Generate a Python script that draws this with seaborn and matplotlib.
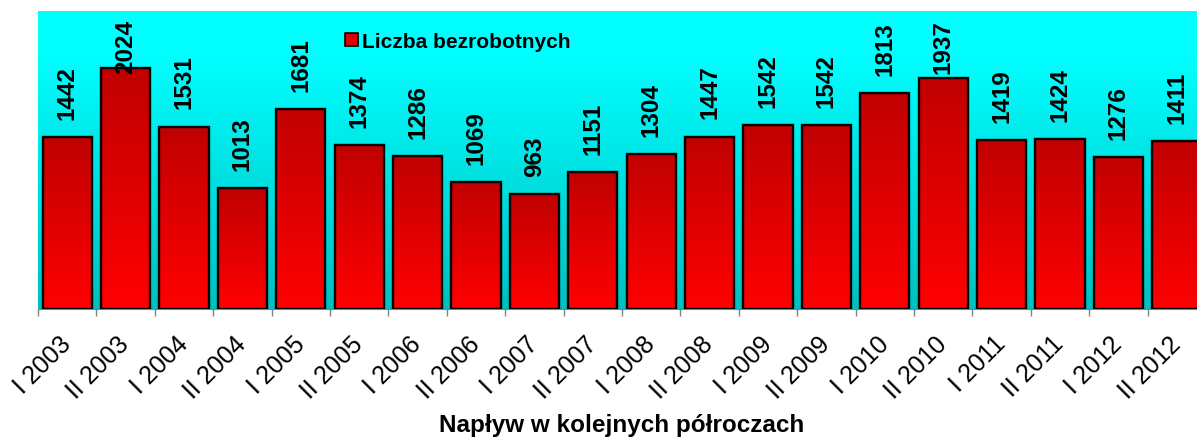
import numpy as np
import matplotlib
matplotlib.use("Agg")
import matplotlib.pyplot as plt
import seaborn as sns
from matplotlib.patches import Patch
from matplotlib.colors import to_rgb

categories = ["I 2003", "II 2003", "I 2004", "II 2004", "I 2005", "II 2005",
              "I 2006", "II 2006", "I 2007", "II 2007", "I 2008", "II 2008",
              "I 2009", "II 2009", "I 2010", "II 2010", "I 2011", "II 2011",
              "I 2012", "II 2012"]
values = [1442, 2024, 1531, 1013, 1681, 1374, 1286, 1069, 963, 1151,
          1304, 1447, 1542, 1542, 1813, 1937, 1419, 1424, 1276, 1411]
series_name = "Liczba bezrobotnych"
x_title = "Napływ w kolejnych półroczach"

sns.set_theme(style="white")
plt.rcParams['font.family'] = ['Liberation Sans', 'DejaVu Sans']
plt.rcParams['text.color'] = 'black'
plt.rcParams['xtick.color'] = 'black'
plt.rcParams['xtick.labelcolor'] = 'black'

W, H = 1197, 439
fig = plt.figure(figsize=(W / 100, H / 100), dpi=100)
ax_left, ax_right = 38 / W, 1206 / W
ax_bottom, ax_top = 1 - 310 / H, 1 - 12 / H
ax = fig.add_axes([ax_left, ax_bottom, ax_right - ax_left, ax_top - ax_bottom])

YMAX = 2500
n = len(categories)

sns.barplot(x=categories, y=values, ax=ax, color="#E00000", edgecolor="black",
            linewidth=1.7, width=0.84, zorder=3)

def vgrad(top, bottom, steps=256):
    t = np.linspace(0, 1, steps)[:, None]
    c0, c1 = np.array(to_rgb(top)), np.array(to_rgb(bottom))
    return (c0 * (1 - t) + c1 * t).reshape(steps, 1, 3)

# background gradient: bright cyan on top fading to teal at the bottom
t = np.linspace(0, 1, 256)
tt = np.clip((t - 0.15) / 0.85, 0, 1)
bg = np.zeros((256, 1, 3))
bg[:, 0, 1] = 1.0 - 0.25 * tt
bg[:, 0, 2] = 1.0 - 0.25 * tt
ax.imshow(bg, extent=[-0.5, n - 0.5, 0, YMAX], aspect="auto", origin="upper", zorder=0)

bar_grad = vgrad("#C00000", "#FF0000")
for p in ax.patches:
    x0, y0 = p.get_x(), p.get_y()
    w, h = p.get_width(), p.get_height()
    im = ax.imshow(bar_grad, extent=[x0, x0 + w, y0, y0 + h], aspect="auto",
                   origin="upper", zorder=2)
    im.set_clip_path(p)
    p.set_facecolor("none")

ax.set_xlim(-0.5, n - 0.5)
ax.set_ylim(0, YMAX)
ax.set_yticks([])
ax.set_ylabel("")
ax.set_xlabel("")
for s in ["left", "top", "right"]:
    ax.spines[s].set_visible(False)
ax.spines["bottom"].set_color("#808080")
ax.spines["bottom"].set_linewidth(0.8)

ax.set_xticks(np.arange(n))
ax.set_xticklabels(categories, rotation=45, ha="right", va="center",
                   rotation_mode="anchor", fontsize=18, color="black")
ax.tick_params(axis="x", which="major", length=0, pad=22)
ax.set_xticks(np.arange(n + 1) - 0.5, minor=True)
ax.tick_params(axis="x", which="minor", length=5, width=1, color="#808080",
               direction="out", bottom=True)

texts = []
for i, v in enumerate(values):
    tx = ax.annotate(str(v), xy=(i, v), xytext=(0, 13), textcoords="offset points",
                     rotation=90, ha="center", va="bottom", fontsize=17.5,
                     fontweight="bold", color="black", zorder=5)
    texts.append(tx)
fig.canvas.draw()
renderer = fig.canvas.get_renderer()
limit = H - 20
for tx in texts:
    bb = tx.get_window_extent(renderer)
    if bb.y1 > limit:
        excess = bb.y1 - limit
        tx.set_position((0, 13 - excess * 72 / 100))

handle = Patch(facecolor="#E00000", edgecolor="black", linewidth=1.2)
fig.legend([handle], [series_name], loc="center left",
           bbox_to_anchor=(345 / W, 1 - 42 / H), frameon=False,
           prop={"weight": "bold", "size": 15}, handlelength=0.6,
           handleheight=0.6, handletextpad=0.2, borderpad=0, borderaxespad=0,
           labelcolor="black")

fig.text(622 / W, 1 - 432 / H, x_title, ha="center", va="baseline",
         fontsize=17.5, fontweight="bold", color="black")

fig.savefig("out.png", dpi=100)
